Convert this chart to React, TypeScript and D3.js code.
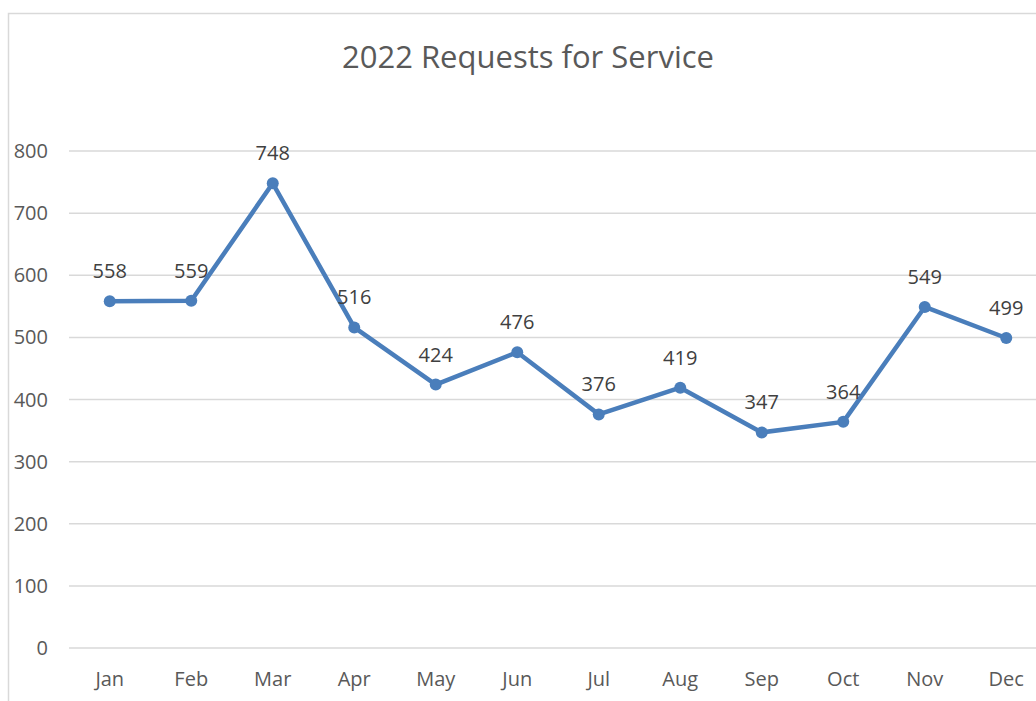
import React, { useRef, useEffect } from 'react';
import * as d3 from 'd3';

const months = ['Jan', 'Feb', 'Mar', 'Apr', 'May', 'Jun', 'Jul', 'Aug', 'Sep', 'Oct', 'Nov', 'Dec'];
const requests = [558, 559, 748, 516, 424, 476, 376, 419, 347, 364, 549, 499];
const yTicks = [0, 100, 200, 300, 400, 500, 600, 700, 800];
const chartTitle = '2022 Requests for Service';

const App = () => {
  const ref = useRef<SVGSVGElement>(null);

  useEffect(() => {
    const width = 1036;
    const height = 701;
    const margin = { top: 151, right: -11, bottom: 53, left: 69 };

    const svg = d3.select(ref.current);
    svg.selectAll('*').remove();
    svg.attr('width', width).attr('height', height);

    const font = '"Open Sans", "Noto Sans", sans-serif';

    // frame (only left and top edges are visible in the crop)
    svg.append('path')
      .attr('d', `M8.5,${height} V13.5 H${width}`)
      .attr('fill', 'none')
      .attr('stroke', '#d9d9d9')
      .attr('stroke-width', 1.5);

    svg.append('text')
      .attr('x', 528)
      .attr('y', 68)
      .attr('text-anchor', 'middle')
      .attr('font-family', font)
      .attr('font-size', 31)
      .attr('fill', '#595959')
      .text(chartTitle);

    const x = d3.scaleBand()
      .domain(months)
      .range([margin.left, width - margin.right]);

    const y = d3.scaleLinear()
      .domain([0, 800])
      .range([height - margin.bottom, margin.top]);

    const g = svg.append('g');

    g.selectAll('.grid')
      .data(yTicks)
      .enter()
      .append('line')
      .attr('x1', margin.left)
      .attr('x2', width)
      .attr('y1', d => y(d))
      .attr('y2', d => y(d))
      .attr('stroke', '#d9d9d9')
      .attr('stroke-width', 1.5);

    g.selectAll('.ylab')
      .data(yTicks)
      .enter()
      .append('text')
      .attr('x', 48)
      .attr('y', d => y(d))
      .attr('dy', '0.35em')
      .attr('text-anchor', 'end')
      .attr('font-family', font)
      .attr('font-size', 20)
      .attr('fill', '#595959')
      .text(d => d);

    const cx = (m: string) => (x(m) as number) + x.bandwidth() / 2;

    g.selectAll('.xlab')
      .data(months)
      .enter()
      .append('text')
      .attr('x', d => cx(d))
      .attr('y', height - margin.bottom + 38)
      .attr('text-anchor', 'middle')
      .attr('font-family', font)
      .attr('font-size', 20)
      .attr('fill', '#595959')
      .text(d => d);

    const line = d3.line<number>()
      .x((_, i) => cx(months[i]))
      .y(d => y(d));

    g.append('path')
      .datum(requests)
      .attr('d', line)
      .attr('fill', 'none')
      .attr('stroke', '#4a7ebb')
      .attr('stroke-width', 4.5)
      .attr('stroke-linejoin', 'round');

    g.selectAll('.pt')
      .data(requests)
      .enter()
      .append('circle')
      .attr('cx', (_, i) => cx(months[i]))
      .attr('cy', d => y(d))
      .attr('r', 6)
      .attr('fill', '#4a7ebb');

    g.selectAll('.vlab')
      .data(requests)
      .enter()
      .append('text')
      .attr('x', (_, i) => cx(months[i]))
      .attr('y', d => y(d) - 23)
      .attr('text-anchor', 'middle')
      .attr('font-family', font)
      .attr('font-size', 20)
      .attr('fill', '#404040')
      .text(d => d);
  }, []);

  return <svg ref={ref} style={{ position: 'absolute', left: 0, top: 0 }}></svg>;
};

export default App;
